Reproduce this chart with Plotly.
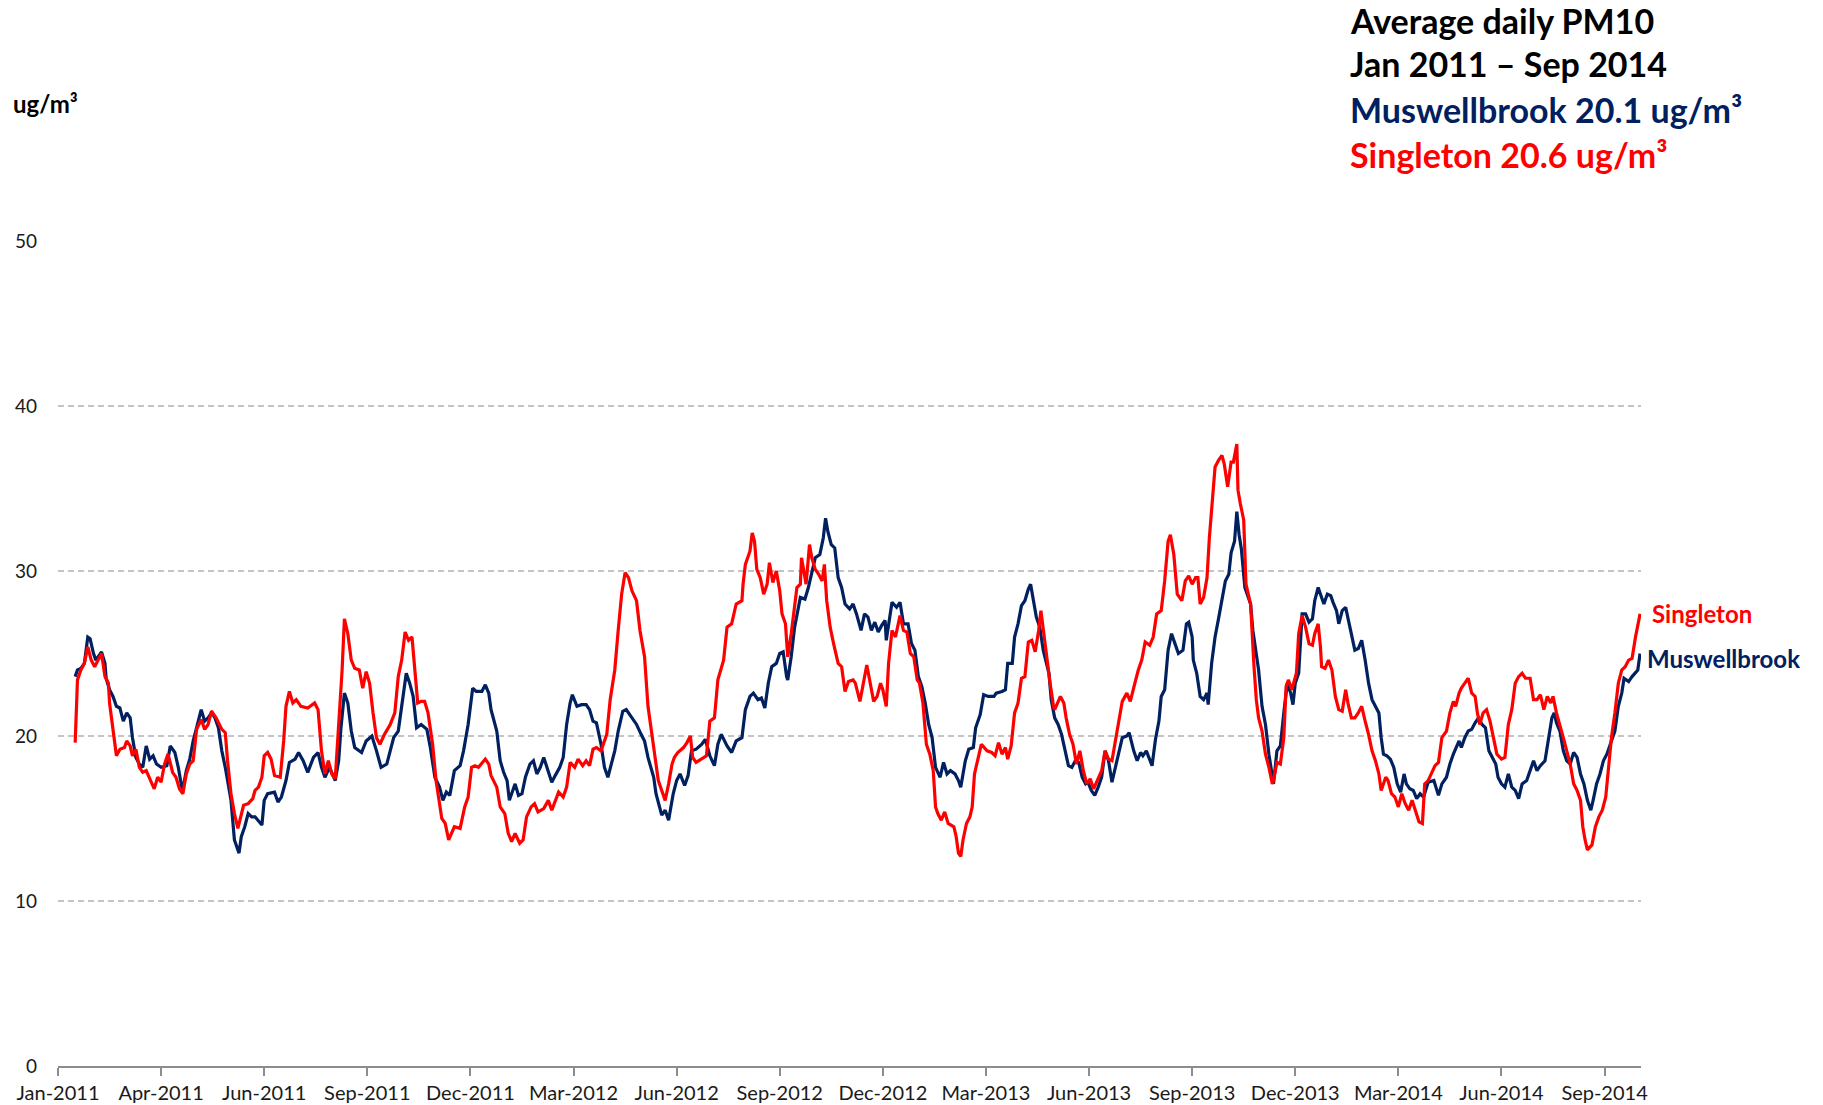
import pandas as pd
import plotly.graph_objects as go

# ---------------- data (day offset from 2011-01-01, rolling average PM10 ug/m3) ----------------
mus_days = [
    15, 17, 20, 23, 26, 28, 31, 33, 38, 41, 42, 45, 48, 51, 54, 57, 60, 63, 65, 68, 71, 74, 77, 80, 83, 86, 90, 95, 98, 102,
    105, 108, 109, 112, 115, 118, 121, 125, 128, 131, 134, 137, 140, 143, 146, 148, 151, 154, 158, 160, 163, 166, 169,
    172, 178, 180, 183, 189, 192, 195, 199, 202, 207, 210, 214, 218, 223, 227, 230, 233, 237, 242, 245, 247, 250, 253, 256,
    259, 265, 269, 274, 278, 282, 287, 290, 293, 297, 300, 304, 307, 310, 313, 317, 322, 325, 329, 333, 336, 339, 342, 345,
    346, 351, 354, 358, 362, 365, 370, 373, 376, 378, 383, 386, 389, 392, 394, 399, 402, 405, 408, 412, 415, 418, 421, 424,
    426, 431, 434, 438, 441, 444, 447, 449, 453, 457, 461, 464, 467, 470, 474, 477, 480, 483, 486, 489, 493, 496, 501, 505,
    509, 512, 515, 520, 522,
    527, 530, 533, 537, 540, 543, 547, 550, 553, 557, 562, 565, 569, 573, 576, 579, 584, 588, 592, 597, 600, 604, 607, 611,
    614, 617, 620, 623, 627, 630, 633, 636, 637, 640, 643, 648, 652, 655, 658, 661, 665, 668, 670, 672, 675, 678, 681, 684,
    687, 691, 694, 697,
    701, 704, 707, 710, 713, 716, 719, 722, 723, 726, 728, 732, 735, 738, 742, 745, 748, 751, 754, 757, 760, 763, 766, 770,
    773, 776, 779, 783, 786, 788, 792, 795, 799, 801, 805, 808, 812, 817, 819, 824, 827, 829, 833, 835, 838, 841, 844, 847,
    849, 851, 854, 857, 860, 865, 867, 870,
    873, 876, 879, 882, 885, 888, 891, 894, 897, 899, 902, 905, 908, 911, 914, 917, 920, 923, 926, 929, 933, 935, 939, 942,
    945, 947, 950, 953, 955, 958, 961, 963, 966, 969, 972, 975, 978, 982, 985, 987, 990, 991, 994, 997, 1000, 1003, 1004,
    1007, 1010, 1013, 1016, 1019, 1022, 1024, 1027, 1029, 1031, 1033, 1036, 1041, 1043, 1046,
    1048, 1051, 1054, 1057, 1060, 1061, 1064, 1067, 1070, 1073, 1076, 1078, 1080, 1083, 1086, 1089, 1092, 1095, 1097, 1100,
    1103, 1105, 1108, 1111, 1113, 1116, 1118, 1121, 1124, 1127, 1130, 1132, 1135, 1138, 1141, 1144, 1147, 1150, 1153, 1155,
    1157, 1160, 1163, 1166, 1169, 1172, 1175, 1177, 1180, 1183, 1186, 1189, 1192, 1196, 1201, 1205, 1208, 1212, 1215, 1218,
    1223, 1225, 1228, 1231, 1234, 1237, 1240, 1243, 1246, 1249, 1252, 1255, 1257, 1260, 1263, 1266, 1269, 1272, 1275, 1278,
    1282, 1285, 1288, 1291, 1294, 1298, 1301, 1304, 1306, 1308, 1311, 1314, 1317, 1320, 1323, 1326, 1329, 1332, 1335, 1338,
    1340, 1343, 1346, 1349, 1352, 1355, 1359, 1362, 1365, 1367, 1371, 1374, 1377, 1379, 1381,
]
mus_pm10 = [
    23.6, 24.0, 24.1, 24.4, 26.0, 25.9, 25.0, 24.6, 25.1, 24.4, 23.5, 22.8, 22.4, 21.8, 21.7, 20.9, 21.4, 21.1, 19.9, 18.7,
    18.3, 18.1, 19.4, 18.6, 18.8, 18.3, 18.1, 18.2, 19.4, 19.0, 18.1, 16.9, 16.8, 17.9, 18.6, 19.7, 20.5, 21.6, 20.9, 21.1,
    21.4, 21.1, 20.5, 19.1, 18.1, 17.3, 16.1, 13.7, 12.9, 13.9, 14.5, 15.3, 15.1,
    15.1, 14.6, 16.1, 16.5, 16.6, 16.0, 16.3, 17.3, 18.4, 18.6, 19.0, 18.5, 17.8, 18.7, 19.0, 18.1, 17.5, 18.1, 17.3, 18.5,
    20.5, 22.6, 22.0, 20.3, 19.3, 19.0, 19.7, 20.0, 19.1, 18.1, 18.3, 19.1, 19.9, 20.3, 21.8, 23.8, 23.2, 22.4, 20.5, 20.7,
    20.4, 19.3, 17.5, 16.9, 16.1, 16.6, 16.4, 17.7,
    17.9, 18.2, 19.1, 20.7, 22.9, 22.7, 22.7, 23.1, 22.6, 21.6, 20.3, 18.5, 17.8, 17.3, 16.1, 17.1, 16.4, 16.5, 17.5, 18.3,
    18.5, 17.7, 18.1, 18.7, 18.3, 17.2, 17.6, 18.1, 18.7, 20.7, 22.0, 22.5, 21.8, 21.9, 21.9, 21.6, 20.9, 20.8, 19.5, 18.1,
    17.5, 18.3, 19.1, 20.3, 21.5, 21.6, 21.1, 20.7, 20.1, 19.7, 18.7, 17.5, 16.5,
    15.2, 15.5, 14.9, 16.5, 17.3, 17.7, 17.0, 17.6, 19.1, 19.2, 19.5, 19.8, 18.8, 18.2, 19.5, 20.1, 19.4, 19.0, 19.7, 19.9,
    21.6, 22.4, 22.6, 22.2, 22.3, 21.7, 23.2, 24.2, 24.4, 25.0, 25.1, 23.6, 23.4, 24.8, 26.6, 28.4, 28.3, 29.0, 30.0, 30.8,
    31.0, 32.0, 33.2, 32.4, 31.6, 31.4, 29.6, 29.0, 28.0, 27.7, 28.0, 27.4,
    26.4, 27.4, 27.2, 26.4, 26.9, 26.3, 26.7, 27.0, 25.8, 27.1, 28.1, 27.8, 28.1, 26.8, 26.8, 25.6, 25.2, 23.6, 23.0, 22.0,
    20.7, 19.9, 18.1, 17.5, 18.4, 17.7, 17.9, 17.7, 17.3, 16.9, 18.5, 19.2, 19.3, 20.5, 21.3, 22.5, 22.4, 22.4, 22.6, 22.7,
    22.8, 24.4, 24.4, 26.0, 26.8, 27.9, 28.2, 28.9, 29.2, 28.4, 27.2, 26.6, 25.2, 23.8, 22.2, 21.1,
    20.7, 20.1, 19.1, 18.2, 18.1, 18.5, 18.4, 17.5, 17.1, 17.2, 16.7, 16.4, 16.9, 17.5, 19.1, 18.5, 17.2, 18.1, 19.1, 19.9,
    20.0, 20.2, 19.1, 18.5, 19.0, 18.8, 19.1, 18.5, 18.2, 19.8, 20.9, 22.4, 22.8, 25.2, 26.2, 25.6, 25.0, 25.2, 26.8, 26.9,
    26.0, 24.6, 23.8, 22.4, 22.2, 22.6, 21.9, 24.4, 26.0, 27.1, 28.2, 29.4, 29.8, 31.1, 31.8, 33.6, 32.2, 31.3, 29.0, 28.0,
    26.4, 25.0,
    24.0, 21.8, 20.7, 18.9, 17.3, 17.1, 19.1, 19.4, 21.4, 23.2, 22.6, 21.9, 23.2, 23.8, 27.4, 27.4, 26.9, 27.1, 28.2, 29.0,
    28.4, 28.0, 28.6, 28.5, 28.1, 27.6, 26.8, 27.6, 27.8, 26.8, 25.8, 25.2, 25.3, 25.8, 24.6, 23.2, 22.2, 21.8, 21.4, 19.9,
    18.9, 18.8, 18.6, 18.1, 17.1, 16.6, 17.7, 17.1, 16.8, 16.7, 16.2, 16.5, 16.3, 17.2, 17.3, 16.4, 17.1, 17.5, 18.3, 18.9,
    19.7, 19.3, 19.9, 20.3, 20.4, 20.8, 21.1, 20.7, 20.5, 19.1, 18.7, 18.3, 17.5, 17.1, 16.9, 17.7, 16.9, 16.7, 16.2, 17.1,
    17.3, 17.9, 18.5, 17.9, 18.2, 18.5, 19.9, 21.1, 21.4, 20.8, 20.3, 19.1, 18.5, 18.3, 19.0, 18.7, 17.7, 17.1, 16.1, 15.5,
    16.1, 17.1, 17.7, 18.5, 18.9, 19.5, 20.3, 21.8, 22.6, 23.5, 23.3, 23.6, 23.8, 24.0, 25.0,
]

sing_days = [
    15, 16, 17, 20, 23, 26, 29, 32, 35, 38, 41, 44, 45, 48, 51, 54, 58, 60, 63, 65, 68, 71, 74, 77, 80, 84, 87, 90, 93, 96,
    99, 100, 103, 106, 109, 112, 115, 118, 121, 125, 128, 131, 134, 138, 143, 146, 148, 151, 154, 157, 162, 166, 170,
    172, 175, 178, 180, 183, 186, 189, 194, 197, 199, 202, 205, 208, 212, 218, 224, 227, 230, 233, 236, 239, 242, 245, 248,
    250, 253, 256, 259, 263, 266, 269, 272, 275, 278, 281, 285, 290, 294, 297, 300, 303, 306, 309, 311, 314, 317, 320, 323,
    327, 330, 335, 338, 341,
    346, 351, 355, 358, 361, 364, 367, 373, 376, 378, 383, 386, 390, 393, 396, 399, 403, 406, 409, 413, 416, 419, 424, 428,
    431, 434, 437, 441, 444, 447, 451, 454, 458, 461, 464, 467, 470, 474, 479, 482, 486, 489, 492, 495, 498, 501, 505, 508,
    512, 515, 518, 521, 524,
    527, 530, 533, 536, 538, 541, 546, 549, 552, 554, 557, 562, 566, 569, 573, 576, 581, 584, 588, 592, 597, 598, 600, 604,
    606, 608, 610, 613, 616, 619, 621, 624, 627, 630, 632, 635, 637, 640, 645, 648, 649, 652, 653, 656, 658, 661, 664, 667,
    669, 671, 674, 677, 681, 684, 687, 690, 694,
    696, 700, 703, 706, 709, 712, 715, 718, 720, 723, 725, 728, 731, 734, 735, 738, 741, 744, 747, 750, 752, 755, 758, 761,
    764, 766, 768, 771, 774, 777, 782, 784, 786, 788, 790, 793, 796, 798, 800, 803, 806, 811, 815, 818, 821, 824, 827, 829,
    832, 835, 838, 841, 844, 847, 850, 853, 856, 858, 860, 863, 866, 869,
    870, 875, 878, 880, 883, 886, 889, 892, 895, 898, 901, 904, 907, 911, 914, 917, 920, 923, 926, 929, 933, 936, 940, 943,
    946, 949, 953, 956, 959, 963, 966, 969, 971, 974, 977, 981, 984, 987, 990, 993, 995, 997, 1000, 1003, 1005, 1007, 1010,
    1013, 1016, 1018, 1021, 1024, 1026, 1029, 1030, 1032, 1035, 1037, 1041, 1044,
    1046, 1048, 1051, 1054, 1057, 1060, 1061, 1064, 1067, 1070, 1072, 1074, 1077, 1081, 1083, 1086, 1089, 1092, 1095, 1097,
    1100, 1102, 1103, 1106, 1109, 1112, 1115, 1118, 1121, 1124, 1126, 1129, 1132, 1135, 1138, 1141, 1144, 1147, 1150, 1153,
    1155, 1159, 1161, 1164, 1167, 1170, 1173, 1176, 1179, 1182, 1185, 1188, 1191, 1193, 1196, 1199, 1202, 1205, 1208, 1212,
    1215, 1218,
    1220, 1223, 1225, 1228, 1231, 1234, 1237, 1239, 1241, 1244, 1247, 1250, 1253, 1256, 1260, 1263, 1266, 1269, 1272, 1275,
    1278, 1281, 1285, 1288, 1291, 1294, 1297, 1300, 1303, 1305, 1308, 1311, 1314, 1317, 1320, 1323, 1326, 1329, 1331, 1333,
    1335, 1339, 1342, 1345, 1348, 1351, 1353, 1356, 1359, 1362, 1365, 1368, 1371, 1374, 1377, 1379, 1381,
]
sing_pm10 = [
    19.6, 22.0, 23.4, 24.0, 24.4, 25.4, 24.6, 24.2, 24.6, 25.0, 23.6, 23.2, 22.0, 20.5, 18.8, 19.2, 19.3, 19.7, 19.4, 18.8,
    19.2, 18.1, 17.8, 17.9, 17.4, 16.8, 17.5, 17.2, 18.3, 18.9, 18.1, 17.8, 17.5, 16.8, 16.5, 17.7, 18.3, 18.5, 20.4, 21.0,
    20.4, 20.7, 21.5, 21.1, 20.4, 20.2, 18.5, 16.5, 15.3, 14.4, 15.8, 15.9, 16.2,
    16.7, 16.9, 17.5, 18.8, 19.0, 18.6, 17.6, 17.5, 19.7, 21.8, 22.7, 22.0, 22.2, 21.8, 21.7, 22.0, 21.6, 19.1, 17.7, 18.5,
    17.7, 17.4, 20.5, 24.0, 27.1, 26.2, 24.6, 24.1, 24.0, 22.9, 23.9, 23.2, 21.4, 19.9, 19.5, 20.1, 20.7, 21.4, 23.6, 24.6,
    26.3, 25.8, 26.0, 24.4, 22.0, 22.1, 22.1, 21.4, 19.5, 17.3, 15.0, 14.7, 13.7,
    14.5, 14.4, 15.7, 16.3, 18.1, 18.2, 18.1, 18.6, 18.3, 17.6, 16.9, 15.7, 15.3, 14.1, 13.6, 14.1, 13.5, 13.7, 15.1, 15.7,
    15.9, 15.4, 15.6, 16.1, 15.5, 16.1, 16.6, 16.3, 16.9, 18.4, 18.1, 18.6, 18.2, 18.5, 18.2, 19.2, 19.3, 19.1, 20.1, 22.2,
    24.0, 26.4, 28.6, 29.9, 29.6, 28.8, 28.2, 26.4, 24.8, 21.8, 20.3, 18.7, 17.3,
    16.7, 16.1, 17.1, 18.3, 18.7, 19.0, 19.3, 19.6, 20.0, 18.7, 18.4, 18.6, 18.8, 20.9, 21.1, 23.4, 24.6, 26.6, 26.8, 28.0,
    28.2, 29.2, 30.4, 31.2, 32.3, 31.8, 30.1, 29.6, 28.6, 29.2, 30.5, 29.3, 30.0, 28.8, 27.4, 26.8, 24.8, 26.2, 29.0, 29.2,
    30.8, 29.6, 29.2, 31.6, 30.8, 30.1, 29.8, 29.4, 30.4, 28.2, 26.6, 25.6, 24.4, 24.2, 22.7, 23.3, 23.4,
    23.2, 22.1, 23.2, 24.3, 23.2, 22.1, 22.4, 23.2, 22.8, 21.8, 24.4, 26.4, 26.0, 27.0, 27.3, 26.4, 26.3, 25.0, 24.8, 23.4,
    23.2, 22.0, 19.5, 18.9, 17.9, 15.7, 15.3, 14.9, 15.4, 14.7, 14.5, 13.9, 12.9, 12.7, 13.7, 14.7, 15.1, 15.7, 17.7, 18.6,
    19.5, 19.1, 19.0, 18.8, 19.6, 18.9, 19.3, 18.6, 19.4, 21.4, 22.0, 23.5, 23.6, 25.7, 25.8, 25.1, 26.4, 27.6, 26.4, 24.8,
    23.2, 21.8,
    21.6, 22.4, 22.0, 21.1, 20.1, 19.5, 18.3, 19.1, 17.9, 17.1, 17.4, 16.8, 17.3, 17.9, 19.1, 18.6, 18.5, 19.7, 21.1, 22.1,
    22.6, 22.1, 23.2, 24.0, 24.6, 25.7, 25.5, 26.0, 27.4, 27.6, 29.4, 31.8, 32.2, 31.0, 28.6, 28.2, 29.4, 29.7, 29.2, 29.6,
    29.6, 28.0, 28.4, 29.6, 32.0, 33.6, 36.3, 36.7, 37.0, 36.5, 35.1, 36.6, 36.6, 37.7, 34.9, 34.1, 33.1, 29.2, 28.0, 24.2,
    22.2, 21.1, 20.3, 18.9, 18.1, 17.1, 17.3, 18.4, 18.3, 19.9, 23.0, 23.4, 22.8, 23.8, 26.2, 27.3, 26.6, 25.6, 25.5, 26.2,
    26.8, 25.4, 24.2, 24.1, 24.6, 24.0, 22.4, 21.6, 21.5, 22.8, 22.0, 21.1, 21.1, 21.4, 21.8, 20.9, 20.1, 19.1, 18.5, 17.7,
    16.7, 17.5, 17.3, 16.5, 16.3, 15.7, 16.5, 15.9, 15.5, 16.1, 15.5, 14.8, 14.7, 17.1, 17.3, 17.7, 18.2, 18.4, 19.9, 20.3,
    21.4, 22.1,
    21.8, 22.6, 22.9, 23.2, 23.5, 22.6, 22.4, 21.4, 20.7, 21.4, 21.6, 20.9, 19.9, 18.9, 18.6, 18.7, 20.7, 21.6, 23.2, 23.6,
    23.8, 23.5, 23.5, 22.2, 22.2, 22.5, 21.6, 22.4, 22.0, 22.4, 21.4, 20.7, 19.9, 19.1, 18.3, 17.1, 16.7, 16.1, 14.5, 13.7,
    13.1, 13.4, 14.5, 15.1, 15.5, 16.3, 17.7, 19.9, 21.4, 23.2, 24.0, 24.2, 24.6, 24.7, 26.0, 26.6, 27.4,
]

series_names = ["Muswellbrook", "Singleton"]
series_means = [20.1, 20.6]
y_ticks = [0, 10, 20, 30, 40, 50]

assert len(mus_days) == len(mus_pm10), (len(mus_days), len(mus_pm10))
assert len(sing_days) == len(sing_pm10), (len(sing_days), len(sing_pm10))

# ---------------- styling ----------------
NAVY = "#002060"
RED = "#FF0000"
FONT = "Lato, 'Open Sans', Arial, sans-serif"
W, H = 1823, 1105
L, R, T, B = 58, 182, 241, 39

start = pd.Timestamp("2011-01-01")
mus_x = start + pd.to_timedelta(mus_days, unit="D")
sing_x = start + pd.to_timedelta(sing_days, unit="D")
x_end = start + pd.to_timedelta(1381.8, unit="D")


def px2x(px):
    return (px - L) / (W - L - R)


def py2y(py):
    return (H - B - py) / (H - T - B)


fig = go.Figure()
fig.add_trace(go.Scatter(x=mus_x, y=mus_pm10, mode="lines", name=series_names[0],
                         line=dict(color=NAVY, width=3.2), hoverinfo="x+y"))
fig.add_trace(go.Scatter(x=sing_x, y=sing_pm10, mode="lines", name=series_names[1],
                         line=dict(color=RED, width=3.2), hoverinfo="x+y"))

fig.update_layout(
    width=W, height=H, autosize=False,
    margin=dict(l=L, r=R, t=T, b=B, autoexpand=False),
    plot_bgcolor="white", paper_bgcolor="white",
    showlegend=False,
    font=dict(family=FONT, color="#000000"),
)
fig.update_xaxes(
    type="date", range=[start, x_end], automargin=False,
    tick0="2011-01-01", dtick=90 * 86400000, tickformat="%b-%Y",
    ticks="outside", ticklen=8, tickwidth=2, tickcolor="#8c8c8c",
    showline=True, linecolor="#8c8c8c", linewidth=2,
    showgrid=False, zeroline=False,
    tickfont=dict(family=FONT, size=20, color="#1a1a1a"),
)
fig.update_yaxes(
    range=[0, 50], tickmode="array", tickvals=y_ticks, automargin=False,
    showgrid=True, gridcolor="#c4c4c4", gridwidth=1.5, griddash="6px,4px",
    zeroline=False, showline=False, ticks="",
    ticklabelstandoff=20,
    tickfont=dict(family=FONT, size=19, color="#1a1a1a"),
)

# title block (top right)
title_lines = [
    ("Average daily PM10", "#000000", 20),
    ("Jan 2011 \u2013 Sep 2014", "#000000", 64),
    (f"{series_names[0]} {series_means[0]} ug/m\u00b3", NAVY, 109),
    (f"{series_names[1]} {series_means[1]} ug/m\u00b3", RED, 154),
]
for text, color, ypx in title_lines:
    fig.add_annotation(text=f"<b>{text}</b>", xref="paper", yref="paper",
                       x=px2x(1348), y=py2y(ypx), xanchor="left", yanchor="middle",
                       showarrow=False, font=dict(family=FONT, size=34, color=color))

# y-axis unit label
fig.add_annotation(text="<b>ug/m\u00b3</b>", xref="paper", yref="paper",
                   x=px2x(11), y=py2y(103), xanchor="left", yanchor="middle",
                   showarrow=False, font=dict(family=FONT, size=24, color="#000000"))

# end-of-line series labels
fig.add_annotation(text=f"<b>{series_names[1]}</b>", x=sing_x[-1], y=sing_pm10[-1],
                   xanchor="left", yanchor="middle", xshift=10, showarrow=False,
                   font=dict(family=FONT, size=24, color=RED))
fig.add_annotation(text=f"<b>{series_names[0]}</b>", x=mus_x[-1], y=mus_pm10[-1],
                   xanchor="left", yanchor="middle", xshift=5, yshift=-5, showarrow=False,
                   font=dict(family=FONT, size=24, color=NAVY))

fig.write_html("out.html", config={"displayModeBar": False},
               post_script="document.body.style.margin='0';")
